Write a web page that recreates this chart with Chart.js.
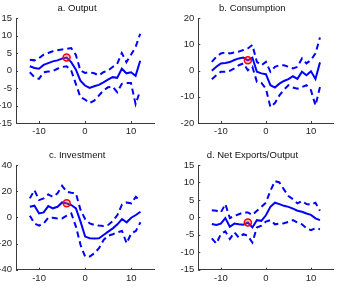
<!DOCTYPE html>
<html><head><meta charset="utf-8">
<script src="https://cdn.jsdelivr.net/npm/chart.js@4.4.1/dist/chart.umd.min.js"></script>
<style>
html,body{margin:0;padding:0;background:#fff;width:339px;height:291px;overflow:hidden;position:relative}
canvas{position:absolute;display:block}
</style></head>
<body>
<canvas id="pa" width="169" height="145" style="left:0;top:0"></canvas>
<canvas id="pb" width="170" height="145" style="left:169px;top:0"></canvas>
<canvas id="pc" width="169" height="146" style="left:0;top:145px"></canvas>
<canvas id="pd" width="170" height="146" style="left:169px;top:145px"></canvas>
<script>
// ---- data ----
const periods = [-12,-11,-10,-9,-8,-7,-6,-5,-4,-3,-2,-1,0,1,2,3,4,5,6,7,8,9,10,11,12];
const markerPeriod = -4;
const xTicks = [-10, 0, 10];

const outputMean  = [1.2,0.7,0.5,1.6,2.1,2.6,2.9,3.4,3.7,2.4,0.3,-2.9,-4.3,-5.0,-4.5,-4.1,-3.4,-2.6,-1.9,-2.1,0.5,-0.8,-0.5,-1.5,2.8];
const outputUpper = [3.1,2.9,3.5,4.5,5.0,5.5,5.8,6.0,6.2,6.4,4.5,0.0,-0.7,-0.5,-0.8,-1.4,-0.5,0.0,1.0,1.9,5.0,2.4,4.5,6.7,10.5];
const outputLower = [-0.5,-1.9,-2.4,-0.5,-0.3,-0.2,0.5,1.0,1.2,0.0,-3.8,-7.6,-8.3,-9.3,-8.6,-7.2,-5.7,-4.8,-4.6,-6.2,-3.8,-3.6,-3.6,-9.6,-5.8];

const consMean  = [-0.1,1.4,2.7,2.9,3.2,4.0,4.6,4.9,3.9,4.9,-0.5,-1.1,-1.4,-5.6,-6.5,-5.0,-4.0,-3.3,-2.2,-3.2,-0.5,-1.8,-0.3,-3.2,3.1];
const consUpper = [3.3,5.2,6.5,6.9,6.5,6.9,7.2,7.8,8.4,9.7,3.3,2.0,3.3,-0.5,1.4,2.0,2.0,1.4,0.8,1.4,4.6,2.7,4.0,6.5,12.6];
const consLower = [-3.3,-1.8,-0.5,-0.5,-0.1,0.8,2.0,2.7,0.1,1.4,-4.3,-4.7,-6.9,-13.9,-12.4,-9.5,-7.3,-5.6,-6.5,-6.9,-6.3,-5.6,-7.5,-13.3,-6.3];

const invMean  = [8.1,8.9,3.0,3.8,8.6,6.9,8.1,11.4,10.7,9.4,6.9,-3.3,-14.7,-16.0,-16.2,-16.0,-13.5,-10.9,-8.4,-5.3,-1.3,-3.8,-0.3,1.8,4.3];
const invUpper = [14.5,20.8,13.2,14.5,17.5,15.7,18.3,24.1,19.5,18.8,18.3,5.6,-1.3,-4.6,-5.8,-6.3,-6.6,-5.8,-2.8,1.8,9.9,11.4,10.7,15.7,12.4];
const invLower = [1.3,-4.6,-6.3,-4.6,-0.3,-0.3,-0.8,-0.8,1.3,3.0,-7.1,-21.0,-30.0,-30.0,-27.4,-23.6,-17.3,-14.0,-12.9,-11.4,-10.4,-19.8,-12.2,-10.4,-3.8];

const nxMean  = [-1.9,-2.2,-1.8,-0.2,-2.7,-1.8,-2.0,-2.1,-1.5,-2.9,-0.8,-1.0,0.6,3.0,4.2,3.8,3.3,3.0,2.5,1.9,1.6,1.1,0.7,-0.3,-0.8];
const nxUpper = [2.0,1.9,1.4,3.8,-0.2,0.4,0.9,1.4,1.4,0.7,1.9,3.0,4.2,7.6,10.4,10.0,8.0,6.1,5.2,4.0,4.7,3.8,3.6,4.2,1.9];
const nxLower = [-6.0,-7.5,-4.8,-4.0,-6.2,-4.3,-5.8,-4.8,-5.3,-7.2,-2.9,-2.4,-1.2,-0.8,-2.0,-1.8,-1.7,-1.3,-0.8,-1.5,-2.0,-3.1,-3.7,-3.1,-3.4];

const titles = ['a. Output','b. Consumption','c. Investment','d. Net Exports/Output'];
const yMins  = [-15,-20,-40,-15];
const yMaxs  = [15,20,40,15];
const ySteps = [5,10,20,5];

// ---- drawing ----
const BLUE = '#0000ff';
const AXIS = '#3a3a3a';
const TXT = '#262626';
const FONT = 'Liberation Sans, Arial, Helvetica, sans-serif';

const inTicks = {
  id: 'inTicks',
  afterDatasetsDraw(chart) {
    const ctx = chart.ctx, xs = chart.scales.x, ys = chart.scales.y;
    ctx.save();
    ctx.strokeStyle = AXIS; ctx.lineWidth = 1;
    ctx.beginPath();
    xs.ticks.forEach(t => {
      const px = Math.round(xs.getPixelForValue(t.value)) + 0.5;
      ctx.moveTo(px, xs.top); ctx.lineTo(px, xs.top - 2);
    });
    ys.ticks.forEach(t => {
      const py = Math.round(ys.getPixelForValue(t.value)) + 0.5;
      ctx.moveTo(ys.right, py); ctx.lineTo(ys.right + 2, py);
    });
    ctx.stroke();
    ctx.restore();
  }
};

function pts(vals) { return periods.map((p, i) => ({x: p, y: vals[i]})); }

function makeChart(id, idx, mean, upper, lower, geo) {
  const mi = periods.indexOf(markerPeriod);
  new Chart(document.getElementById(id), {
    type: 'line',
    data: {
      datasets: [
        {data: [{x: markerPeriod, y: mean[mi]}], showLine: false, pointRadius: 3.5,
         pointBorderWidth: 1.5, pointBorderColor: '#ff0000', pointBackgroundColor: 'rgba(255,60,60,0.35)', order: -1},
        {data: pts(mean), borderColor: BLUE, borderWidth: 2, pointRadius: 0, tension: 0},
        {data: pts(upper), borderColor: BLUE, borderWidth: 2, borderDash: [6, 4], pointRadius: 0, tension: 0},
        {data: pts(lower), borderColor: BLUE, borderWidth: 2, borderDash: [6, 4], pointRadius: 0, tension: 0}
      ]
    },
    options: {
      responsive: false, animation: false, devicePixelRatio: 1,
      layout: {padding: {left: 0, right: geo.right, top: 0, bottom: 0}},
      plugins: {
        legend: {display: false}, tooltip: {enabled: false},
        title: {display: true, text: titles[idx], color: '#111', font: {family: FONT, size: 9.5, weight: 'normal'},
                padding: {top: geo.tTop, bottom: geo.tBot}}
      },
      scales: {
        x: {type: 'linear', min: -15, max: 15,
            afterBuildTicks: s => { s.ticks = xTicks.map(v => ({value: v})); },
            afterFit: s => { s.height = geo.xh; },
            grid: {display: false, drawTicks: false},
            border: {display: true, color: AXIS, width: 1},
            ticks: {color: TXT, font: {family: FONT, size: 9.5}, padding: 3, maxRotation: 0}},
        y: {type: 'linear', min: yMins[idx], max: yMaxs[idx],
            ticks: {stepSize: ySteps[idx], color: TXT, font: {family: FONT, size: 9.5}, padding: 4},
            afterFit: s => { s.width = geo.yw; },
            grid: {display: false, drawTicks: false},
            border: {display: true, color: AXIS, width: 1}}
      }
    },
    plugins: [inTicks]
  });
}

makeChart('pa', 0, outputMean, outputUpper, outputLower, {right: 15, tTop: 2.5, tBot: 4.1, xh: 22, yw: 16});
makeChart('pb', 1, consMean, consUpper, consLower, {right: 3.3, tTop: 2.5, tBot: 4.1, xh: 22, yw: 29.3});
makeChart('pc', 2, invMean, invUpper, invLower, {right: 14.7, tTop: 5, tBot: 3.6, xh: 21.3, yw: 16});
makeChart('pd', 3, nxMean, nxUpper, nxLower, {right: 3.3, tTop: 5, tBot: 3.6, xh: 21.3, yw: 29.3});
</script>
</body></html>
